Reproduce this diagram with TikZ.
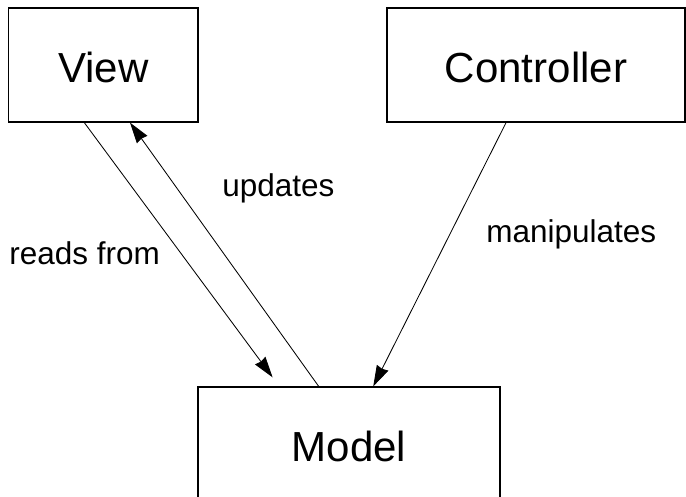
\documentclass[tikz,border=0pt]{standalone}
\usepackage{fontspec}
\setmainfont{Liberation Sans}
\usetikzlibrary{calc,arrows.meta}

\tikzset{
	block/.style={draw, line width=0.9pt, inner sep=0pt, text height=0.9cm, text depth=0pt,
		minimum height=2.85cm, font=\fontsize{29.9}{32}\selectfont},
	tag/.style={anchor=base west, inner sep=0pt, font=\fontsize{22.4}{24}\selectfont},
	wire/.style={line width=0.6pt, -{Stealth[length=0.52cm, width=0.32cm, inset=0.03cm]}}
}

\begin{document}
\begin{tikzpicture}
	\useasboundingbox (0, 0) rectangle (17.15, 12.425);
	% Boxes:
	\node[block, minimum width=4.73cm] (view) at (2.584, 10.8) {View};
	\node[block, minimum width=7.45cm] (controller) at (13.4, 10.8) {Controller};
	\node[block, minimum width=7.55cm] (model) at (8.725, 1.325) {Model};
	% Labels:
	\node[tag] (reads) at (0.225, 5.8) {reads from};
	\node[tag] (updates) at (5.55, 7.5) {updates};
	\node[tag] (manip) at (12.15, 6.35) {manipulates};
	% Connectors:
	\draw[wire, shorten >=0.28cm] ($(view.south west)!0.4!(view.south east)$) -- ($(model.north west)!0.27!(model.north east)$);
	\draw[wire] ($(model.north west)!0.4!(model.north east)$) -- ($(view.south west)!0.64!(view.south east)$);
	\draw[wire] ($(controller.south west)!0.4!(controller.south east)$) -- ($(model.north west)!0.58!(model.north east)$);
\end{tikzpicture}
\end{document}
